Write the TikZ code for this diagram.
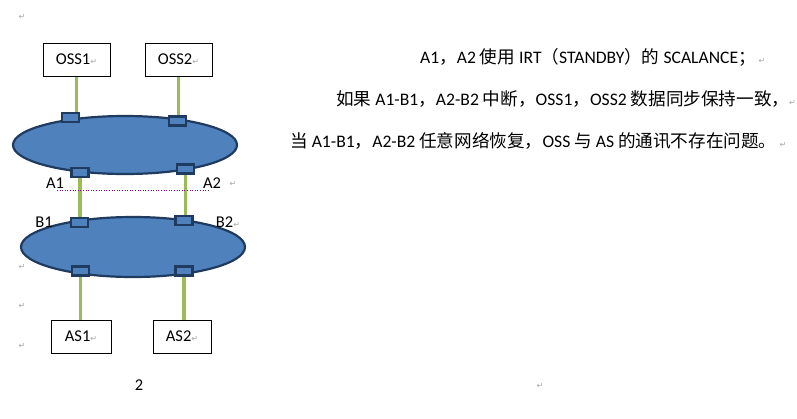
\documentclass[tikz,border=0pt]{standalone}
\usepackage{fontspec}
\setmainfont{Carlito}
\newfontfamily\cjk{Noto Sans CJK SC}
\newfontfamily\symf{DejaVu Sans}
\usetikzlibrary{backgrounds,shapes.geometric}
\newcommand\zh[1]{{\cjk #1}}
\newcommand\parmark{{\symf\fontsize{8}{8}\selectfont\color{gray!70}↵}}
\definecolor{netblue}{HTML}{4F81BD}
\definecolor{netedge}{HTML}{1F3B60}
\definecolor{linkgreen}{HTML}{9BBB59}
\tikzset{
  net/.style={ellipse, draw=netedge, line width=2.2pt, fill=netblue, inner sep=0pt},
  port/.style={rectangle, draw=netedge, line width=2.4pt, fill=netblue, minimum width=17pt, minimum height=9pt, inner sep=0pt},
  station/.style={rectangle, draw=black, line width=0.7pt, fill=white, minimum width=67pt, minimum height=33pt, inner sep=0pt, font=\fontsize{16.5}{16.5}\selectfont},
  link/.style={draw=linkgreen, line width=3.4pt},
  lbl/.style={inner sep=0pt, font=\fontsize{16.5}{16.5}\selectfont},
  para/.style={inner sep=0pt},
  txt/.style={inner sep=0pt, anchor=west, font=\fontsize{17.6}{17.6}\selectfont}
}
\begin{document}
\begin{tikzpicture}[x=1pt,y=-1pt]
\useasboundingbox (0,0) rectangle (797,418);
% stations
\node[station] (oss1) at (76.5,59.5) {OSS1\parmark};
\node[station] (oss2) at (178.5,59.5) {OSS2\parmark};
\node[station, minimum width=60pt] (as1) at (81,336.5) {AS1\parmark};
\node[station, minimum width=58pt] (as2) at (182,336.5) {AS2\parmark};
% networks
\node[net, minimum width=224pt, minimum height=58pt] (e1) at (125,145) {};
\node[net, minimum width=224pt, minimum height=60pt] (e2) at (133,247) {};
% ports
\node[port] (p1) at (70.5,117.5) {};
\node[port] (p2) at (177.5,121) {};
\node[port] (p3) at (80,172.5) {};
\node[port] (p4) at (185.5,169) {};
\node[port] (p5) at (79.5,222.5) {};
\node[port] (p6) at (184,220.5) {};
\node[port] (p7) at (80.5,271) {};
\node[port] (p8) at (184,271) {};
% links
\begin{scope}[on background layer]
\draw[link] (oss1.south) -- (oss1.south |- p1.center);
\draw[link] (oss2.south) -- (oss2.south |- p2.center);
\draw[link] (p3.center) -- (p3.center |- p5.center);
\draw[link] (p4.center) -- (p4.center |- p6.center);
\draw[link] (p7.center) -- (p7.center |- as1.north);
\draw[link] (p8.center) -- (p8.center |- as2.north);
\end{scope}
% dotted boundary
\coordinate (d1) at (57,190);
\coordinate (d2) at (210,190);
\draw[violet, dotted, line width=0.6pt] (d1) -- (d2);
% labels
\node[lbl] (la1) at (55,183) {A1};
\node[lbl] (la2) at (212,183) {A2};
\node[para] (pa2) at (233,184) {\parmark};
\node[lbl] (lb1) at (44,222) {B1};
\node[lbl] (lb2) at (228,222) {B2\parmark};
% paragraph marks
\node[para] (m1) at (22,17) {\parmark};
\node[para] (m2) at (22,267) {\parmark};
\node[para] (m3) at (22,306) {\parmark};
\node[para] (m4) at (22,346) {\parmark};
\node[para] (m5) at (540,386) {\parmark};
\node[lbl] (num) at (139,385) {2};
% right text
\node[txt] (t1) at (420,57) {A1\zh{，}A2 \zh{使用} IRT\zh{（}STANDBY\zh{）的} SCALANCE\zh{；}\,\parmark};
\node[txt] (t2) at (336,99) {\zh{如果} A1-B1\zh{，}A2-B2 \zh{中断，}OSS1\zh{，}OSS2 \zh{数据同步保持一致，}\parmark};
\node[txt] (t3) at (290,141) {\zh{当} A1-B1\zh{，}A2-B2 \zh{任意网络恢复，}OSS \zh{与} AS \zh{的通讯不存在问题。}\,\parmark};
\end{tikzpicture}
\end{document}
